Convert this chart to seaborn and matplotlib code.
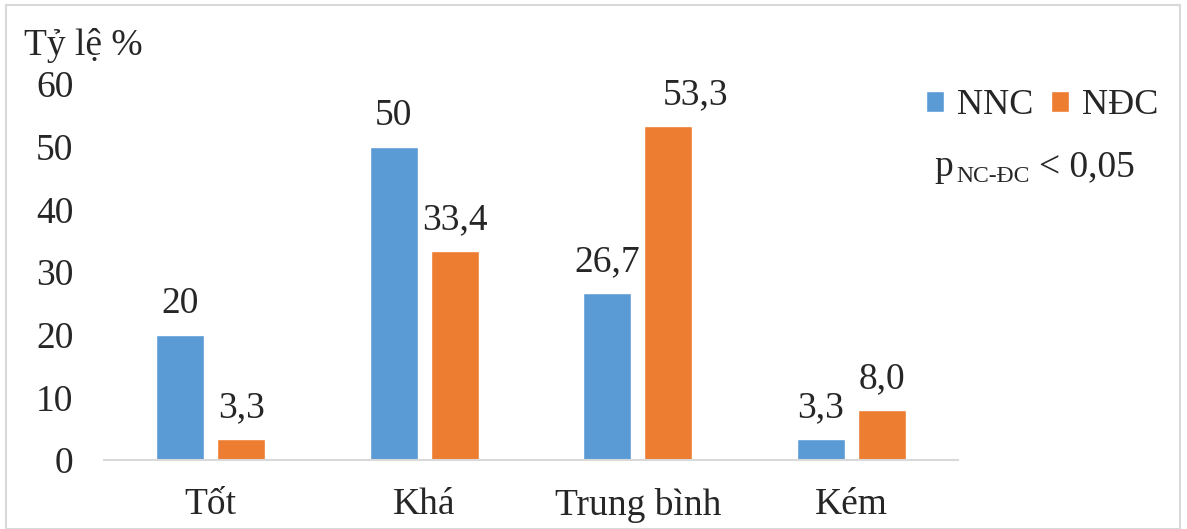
import matplotlib
matplotlib.use("Agg")
import matplotlib.pyplot as plt
import seaborn as sns
import pandas as pd
from matplotlib.patches import Rectangle

categories = ["Tốt", "Khá", "Trung bình", "Kém"]
groups = ["NNC", "NĐC"]
nnc = [20, 50, 26.7, 3.3]
ndc = [3.3, 33.4, 53.3, 8.0]
nnc_labels = ["20", "50", "26,7", "3,3"]
ndc_labels = ["3,3", "33,4", "53,3", "8,0"]
yticks = [0, 10, 20, 30, 40, 50, 60]

df = pd.DataFrame({
    "cat": categories * 2,
    "nhom": [groups[0]] * 4 + [groups[1]] * 4,
    "val": nnc + ndc,
})

sns.set_style("white")
plt.rcParams["font.family"] = ["Liberation Serif", "DejaVu Serif"]
fs = 27

fig = plt.figure(figsize=(11.87, 5.29), dpi=100)
ax = fig.add_axes([104 / 1187, 69 / 529, 854 / 1187, 376 / 529])

sns.barplot(data=df, x="cat", y="val", hue="nhom", order=categories, hue_order=groups,
            palette=["#5B9BD5", "#ED7D31"], width=0.57, gap=0.21, ax=ax,
            errorbar=None, saturation=1)

all_texts = []
for cont, labs in zip(ax.containers, [nnc_labels, ndc_labels]):
    all_texts.append(ax.bar_label(cont, labels=labs, padding=10, fontsize=fs, clip_on=False))

# label 53,3 sits shifted to the right in the original
t = all_texts[1][2]
t.xyann = (20, t.xyann[1])

ax.set_ylim(0, 60)
ax.set_xlim(-0.5, 3.5)
ax.set_yticks(yticks)
ax.set_yticklabels([str(t) for t in yticks])
ax.tick_params(axis="y", labelsize=fs, length=0, pad=22)
ax.tick_params(axis="x", labelsize=fs, length=0, pad=20)
ax.set_xlabel("")
ax.set_ylabel("")
for s in ["top", "right", "left"]:
    ax.spines[s].set_visible(False)
ax.spines["bottom"].set_color("#D9D9D9")
ax.spines["bottom"].set_linewidth(1.5)

ax.get_legend().remove()
handles, labels = ax.get_legend_handles_labels()
fig.legend(handles, labels, loc="center left", bbox_to_anchor=(926 / 1187, 1 - 106 / 529),
           ncol=2, frameon=False, fontsize=26, handlelength=0.5, handleheight=0.5,
           handletextpad=0.35, columnspacing=0.5, borderaxespad=0, borderpad=0)

fig.text(24 / 1187, 1 - 55 / 529, "Tỷ lệ %", fontsize=fs, ha="left", va="baseline")

# p value text with subscript
fig.text(934 / 1187, 1 - 176 / 529, "p", fontsize=fs, ha="left", va="baseline")
fig.text(956 / 1187, 1 - 182 / 529, "NC-ĐC", fontsize=17, ha="left", va="baseline")
fig.text(1039 / 1187, 1 - 176 / 529, "< 0,05", fontsize=fs, ha="left", va="baseline")

fig.patches.append(Rectangle((6 / 1187, 0.0), 1174 / 1187, 1 - 5 / 529, transform=fig.transFigure,
                             fill=False, edgecolor="#D9D9D9", linewidth=1.5))

fig.savefig("out.png", dpi=100)
